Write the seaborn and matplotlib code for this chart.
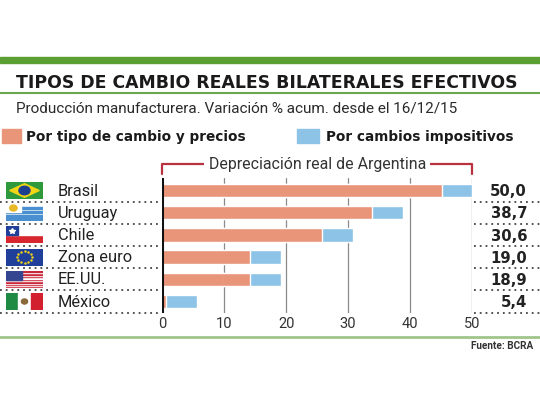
"""
Tipos de cambio reales bilaterales efectivos: barras apiladas horizontales.
"""

import matplotlib.pyplot as plt
import matplotlib.patches as mpatches
import matplotlib.transforms as mtransforms
import seaborn as sns
import pandas as pd
import numpy as np

paises = ['Brasil', 'Uruguay', 'Chile', 'Zona euro', 'EE.UU.', 'México']
por_precios = [45.1, 33.9, 25.8, 14.1, 14.1, 0.6]
por_impositivos = [4.9, 5.0, 5.0, 5.0, 5.0, 5.0]
total_rotulo = [50.0, 38.7, 30.6, 19.0, 18.9, 5.4]
ticks_x = [0, 10, 20, 30, 40, 50]

NARANJA = '#e8957a'
CELESTE = '#8dc3e6'
VERDE = '#5b9f33'
ROJO = '#b8323f'
NEGRITA = ['DejaVu Sans']

df = pd.DataFrame({'pais': paises, 'precios': por_precios,
                   'impositivos': por_impositivos})
df['total'] = df['precios'] + df['impositivos']

sns.set_style('white')
plt.rcParams['font.family'] = ['Roboto', 'DejaVu Sans']

W, H = 540, 405
fig = plt.figure(figsize=(5.4, 4.05), dpi=100)
fig.patch.set_facecolor('white')


def fx(px):
    return px / W


def fy(py):
    return 1 - py / H


# ejes principales
ax = fig.add_axes([fx(162.3), fy(312.6), fx(309.7), (312.6 - 178) / H])
sns.barplot(data=df, x='total', y='pais', color=CELESTE, orient='h',
            width=0.6, ax=ax, saturation=1, zorder=3)
sns.barplot(data=df, x='precios', y='pais', color=NARANJA, orient='h',
            width=0.6, ax=ax, saturation=1, zorder=4)
ax.set_xlim(0, 50)
ax.set_ylim(5.5, -0.56)
for t in ticks_x[1:]:
    ax.axvline(t, color='#8a8a8a', lw=0.9, zorder=1)
ax.axvline(0, color='#111111', lw=2.2, zorder=5)
sns.despine(ax=ax, left=True, bottom=True, top=True, right=True)
ax.set_xticks(ticks_x)
ax.set_xticklabels([str(t) for t in ticks_x], fontsize=10.5, color='#333333')
ax.tick_params(axis='x', length=0, pad=3)
ax.set_yticks([])
ax.set_xlabel('')
ax.set_ylabel('')
ax.set_facecolor('none')

# separadores punteados, rotulos y valores
tr_fig_data = mtransforms.blended_transform_factory(fig.transFigure, ax.transData)
for i, (pais, val) in enumerate(zip(paises, total_rotulo)):
    for x0, x1 in [(0, fx(158)), (fx(474), 1)]:
        ax.plot([x0, x1], [i + 0.5, i + 0.5], transform=tr_fig_data,
                color='#444444', lw=1.3, ls=(0, (1, 2.2)), clip_on=False)
    ax.text(fx(58), i + 0.03, pais, transform=tr_fig_data, va='center', ha='left',
            fontsize=11.8, color='#222222')
    ax.text(fx(527), i + 0.06, f'{val:.1f}'.replace('.', ','),
            transform=tr_fig_data, va='center', ha='right', fontsize=10.7,
            fontweight='bold', family=NEGRITA, color='#222222')

# corchete "Depreciación real de Argentina"
tr_data_fig = mtransforms.blended_transform_factory(ax.transData, fig.transFigure)
ax.plot([0, 0, 50, 50], [fy(174), fy(164), fy(164), fy(174)],
        transform=tr_data_fig, color=ROJO, lw=1.6, clip_on=False)
ax.text(25, fy(164), 'Depreciación real de Argentina', transform=tr_data_fig,
        ha='center', va='center', fontsize=11.4, color='#333333',
        bbox=dict(facecolor='white', edgecolor='none', pad=3))


# banderas
def bandera(pais, yc):
    fa = fig.add_axes([fx(6), fy(yc + 8.5), fx(37), 17 / H])
    fa.set_xlim(0, 30)
    fa.set_ylim(0, 20)
    fa.axis('off')
    if pais == 'Brasil':
        fa.add_patch(mpatches.Rectangle((0, 0), 30, 20, color='#2f9a3c'))
        fa.add_patch(mpatches.Polygon([[3, 10], [15, 18], [27, 10], [15, 2]],
                                      color='#f2d516'))
        fa.add_patch(mpatches.Ellipse((15, 10), 9, 10, color='#1d3f8f'))
    elif pais == 'Uruguay':
        fa.add_patch(mpatches.Rectangle((0, 0), 30, 20, color='white'))
        for k in range(4):
            fa.add_patch(mpatches.Rectangle((0, 1.1 + k * 4.4), 30, 2.2,
                                            color='#4a90d0'))
        fa.add_patch(mpatches.Rectangle((0, 11), 12, 9, color='white'))
        fa.add_patch(mpatches.Ellipse((6, 15.5), 6, 7, color='#e9b826'))
    elif pais == 'Chile':
        fa.add_patch(mpatches.Rectangle((0, 0), 30, 10, color='#d8262e'))
        fa.add_patch(mpatches.Rectangle((0, 10), 30, 10, color='white'))
        fa.add_patch(mpatches.Rectangle((0, 10), 10, 10, color='#1f3f99'))
        fa.plot([5], [15], marker='*', color='white', ms=4)
    elif pais == 'Zona euro':
        fa.add_patch(mpatches.Rectangle((0, 0), 30, 20, color='#1f3f9a'))
        ang = np.linspace(0, 2 * np.pi, 13)[:-1]
        fa.scatter(15 + 6 * np.cos(ang), 10 + 7 * np.sin(ang), s=0.6,
                   color='#f2d516', zorder=3)
    elif pais == 'EE.UU.':
        for k in range(13):
            fa.add_patch(mpatches.Rectangle((0, k * 20 / 13), 30, 20 / 13,
                                            color='#c8283a' if k % 2 == 0 else 'white'))
        fa.add_patch(mpatches.Rectangle((0, 20 * 6 / 13), 13, 20 * 7 / 13,
                                        color='#33468f'))
    elif pais == 'México':
        fa.add_patch(mpatches.Rectangle((0, 0), 10, 20, color='#1e8a44'))
        fa.add_patch(mpatches.Rectangle((10, 0), 10, 20, color='white'))
        fa.add_patch(mpatches.Rectangle((20, 0), 10, 20, color='#d2202e'))
        fa.add_patch(mpatches.Ellipse((15, 10), 5, 6, color='#8a6a3a'))


for i, pais in enumerate(paises):
    bandera(pais, 190.5 + 22.2 * i)

# encabezado
fig.add_artist(mpatches.Rectangle((0, fy(63)), 1, 6 / H, color=VERDE,
                                  transform=fig.transFigure))
fig.add_artist(plt.Line2D([0, 1], [fy(93.3), fy(93.3)], color='#6aa84f', lw=1.5,
                          transform=fig.transFigure))
fig.text(fx(15.5), fy(83), 'TIPOS DE CAMBIO REALES BILATERALES EFECTIVOS',
         fontsize=12.4, fontweight='bold', family=NEGRITA, color='#1a1a1a',
         va='center')
fig.text(fx(15.5), fy(108.5),
         'Producción manufacturera. Variación % acum. desde el 16/12/15',
         fontsize=11, color='#2a2a2a', va='center')

# leyenda
fig.add_artist(mpatches.Rectangle((fx(2), fy(143)), fx(19), 14 / H,
                                  color=NARANJA, transform=fig.transFigure))
fig.text(fx(26), fy(136.5), 'Por tipo de cambio y precios', fontsize=9.8,
         fontweight='bold', family=NEGRITA, color='#1a1a1a', va='center')
fig.add_artist(mpatches.Rectangle((fx(297), fy(143)), fx(22), 14 / H,
                                  color=CELESTE, transform=fig.transFigure))
fig.text(fx(326), fy(136.5), 'Por cambios impositivos', fontsize=9.8,
         fontweight='bold', family=NEGRITA, color='#1a1a1a', va='center')

# pie
fig.add_artist(plt.Line2D([0, 1], [fy(337), fy(337)], color='#9fc58a', lw=2,
                          transform=fig.transFigure))
fig.text(fx(533), fy(346), 'Fuente: BCRA', fontsize=7.2, fontweight='bold',
         color='#333333', ha='right', va='center')

fig.savefig('out.png', dpi=100, facecolor='white')
plt.close(fig)
